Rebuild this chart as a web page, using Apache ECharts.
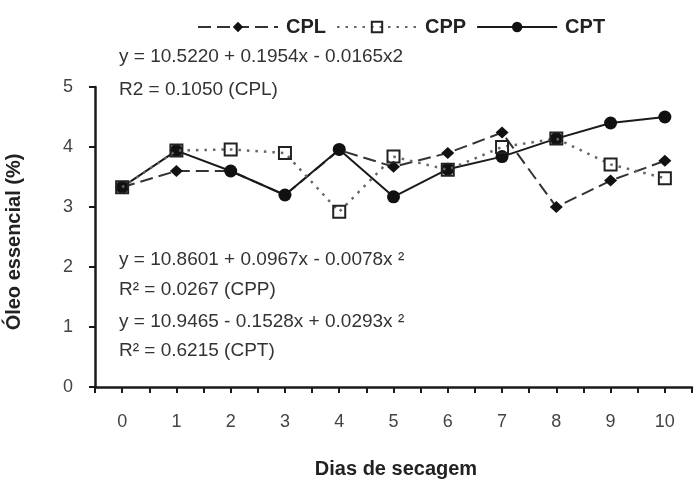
<!DOCTYPE html>
<html>
<head>
<meta charset="utf-8">
<script src="https://cdn.jsdelivr.net/npm/echarts@6/dist/echarts.min.js"></script>
<style>
  html, body { margin: 0; padding: 0; background: #fff; }
  #chart { width: 695px; height: 483px; }
</style>
</head>
<body>
<div id="chart"></div>
<script>
// Drying days and essential-oil content (%) for each treatment
const days = [0, 1, 2, 3, 4, 5, 6, 7, 8, 9, 10];
const cpl = [3.33, 3.60, 3.60, 3.20, 3.95, 3.67, 3.90, 4.24, 3.00, 3.44, 3.77];
const cpp = [3.33, 3.94, 3.96, 3.90, 2.92, 3.84, 3.62, 4.00, 4.14, 3.71, 3.48];
const cpt = [3.33, 3.94, 3.60, 3.20, 3.96, 3.17, 3.63, 3.84, 4.14, 4.40, 4.50];
const seriesNames = ['CPL', 'CPP', 'CPT'];

// Regression equations printed inside the plot
const eqTop = ['y = 10.5220 + 0.1954x - 0.0165x2', 'R2 = 0.1050 (CPL)'];
const eqBottom = [
  'y = 10.8601 + 0.0967x - 0.0078x \u00B2',
  'R\u00B2 = 0.0267 (CPP)',
  'y = 10.9465 - 0.1528x + 0.0293x \u00B2',
  'R\u00B2 = 0.6215 (CPT)'
];

const FONT = '"Liberation Sans", Arial, sans-serif';
const pairs = arr => days.map((d, i) => [d, arr[i]]);

const chart = echarts.init(document.getElementById('chart'));

function eqText(text, x, y) {
  return {
    type: 'text', x: x, y: y, z: 50,
    style: { text: text, fill: '#333', font: '19px ' + FONT, align: 'left', verticalAlign: 'middle' }
  };
}

chart.setOption({
  animation: false,
  backgroundColor: '#fff',
  grid: { left: 95, right: -3, top: 87, bottom: 96, containLabel: false },
  legend: {
    left: 192, top: 12,
    itemWidth: 80, itemHeight: 13, itemGap: 10,
    textStyle: { fontFamily: FONT, fontSize: 20, fontWeight: 'bold', color: '#222', padding: [0, 0, 0, 3] },
    data: seriesNames
  },
  xAxis: {
    type: 'value', min: -0.5, max: 10.5, interval: 0.5,
    axisLine: { show: true, onZero: false, lineStyle: { color: '#1a1a1a', width: 2.5 } },
    axisTick: { show: true, length: 6, lineStyle: { color: '#1a1a1a', width: 2 } },
    axisLabel: {
      margin: 26, fontFamily: FONT, fontSize: 18, color: '#444',
      formatter: v => (Number.isInteger(v) ? String(v) : '')
    },
    splitLine: { show: false }
  },
  yAxis: {
    type: 'value', min: 0, max: 5, interval: 1,
    axisLine: { show: true, onZero: false, lineStyle: { color: '#1a1a1a', width: 2.5 } },
    axisTick: { show: true, length: 6, lineStyle: { color: '#1a1a1a', width: 2 } },
    axisLabel: { margin: 22, fontFamily: FONT, fontSize: 18, color: '#444' },
    splitLine: { show: false }
  },
  series: [
    {
      name: 'CPL', type: 'line', z: 2, data: pairs(cpl),
      symbol: 'diamond', symbolSize: [13, 12],
      lineStyle: { color: '#333', width: 2, type: [13, 6] },
      itemStyle: { color: '#111' }
    },
    {
      name: 'CPP', type: 'line', z: 4, data: pairs(cpp),
      symbol: 'rect', symbolSize: 12,
      lineStyle: { color: '#666', width: 2.5, type: [2.5, 6] },
      itemStyle: { color: 'transparent', borderColor: '#222', borderWidth: 2 }
    },
    {
      name: 'CPT', type: 'line', z: 3, data: pairs(cpt),
      symbol: 'circle', symbolSize: 13,
      lineStyle: { color: '#1a1a1a', width: 2 },
      itemStyle: { color: '#111' }
    }
  ],
  graphic: [
    eqText(eqTop[0], 119, 57),
    eqText(eqTop[1], 119, 90),
    eqText(eqBottom[0], 119, 260),
    eqText(eqBottom[1], 119, 290),
    eqText(eqBottom[2], 119, 322),
    eqText(eqBottom[3], 119, 351),
    {
      type: 'text', x: 396, y: 469,
      style: { text: 'Dias de secagem', fill: '#222', font: 'bold 20px ' + FONT, align: 'center', verticalAlign: 'middle' }
    },
    {
      type: 'text', x: 14, y: 242, rotation: Math.PI / 2,
      style: { text: 'Óleo essencial (%)', fill: '#222', font: 'bold 20px ' + FONT, align: 'center', verticalAlign: 'middle' }
    }
  ]
});
</script>
</body>
</html>
